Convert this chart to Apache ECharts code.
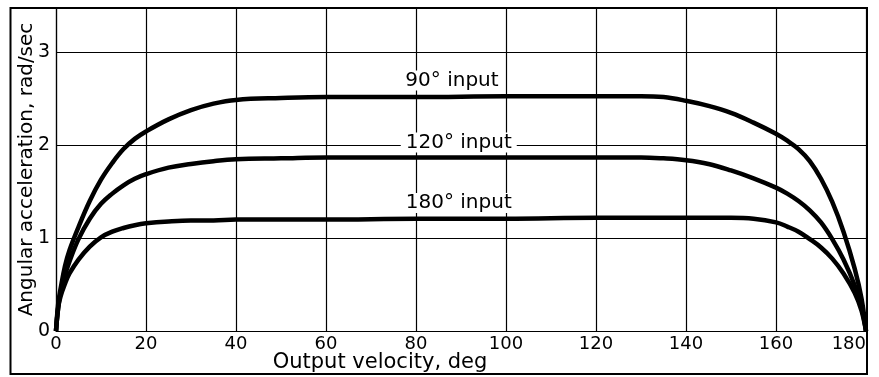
<!DOCTYPE html>
<html>
<head>
<meta charset="utf-8">
<script src="https://cdn.jsdelivr.net/npm/echarts@6/dist/echarts.min.js"></script>
<style>
  html, body { margin: 0; padding: 0; background: #fff; }
  #chart { width: 879px; height: 377px; }
</style>
</head>
<body>
<div id="chart"></div>
<script>
// output velocity, deg
var xs = [0, 0.5, 1, 2, 3, 5, 7.5, 10, 12.5, 15, 17.5, 20, 25, 30, 35, 40, 50, 60, 80, 100, 120, 130,
          135, 140, 145, 150, 155, 160, 162.5, 165, 167.5, 170, 172.5, 175, 177.5, 179, 180];
// angular acceleration, rad/sec
var input90  = [0, 0.30, 0.45, 0.70, 0.87, 1.12, 1.40, 1.63, 1.81, 1.96, 2.07, 2.15, 2.28, 2.38, 2.45, 2.49, 2.51, 2.52, 2.52, 2.53, 2.53, 2.53,
                2.52, 2.48, 2.425, 2.35, 2.245, 2.125, 2.05, 1.96, 1.83, 1.64, 1.39, 1.07, 0.67, 0.35, 0];
var input120 = [0, 0.26, 0.40, 0.60, 0.75, 0.99, 1.21, 1.37, 1.48, 1.57, 1.64, 1.69, 1.76, 1.80, 1.83, 1.85, 1.86, 1.87, 1.87, 1.87, 1.87, 1.87,
                1.86, 1.84, 1.80, 1.73, 1.645, 1.545, 1.48, 1.40, 1.30, 1.17, 0.99, 0.77, 0.49, 0.25, 0];
var input180 = [0, 0.25, 0.37, 0.51, 0.62, 0.77, 0.91, 1.01, 1.07, 1.11, 1.14, 1.16, 1.18, 1.19, 1.19, 1.20, 1.20, 1.20, 1.21, 1.21, 1.22, 1.22,
                1.22, 1.22, 1.22, 1.22, 1.21, 1.17, 1.125, 1.07, 0.99, 0.90, 0.78, 0.62, 0.41, 0.22, 0];

// curve labels (text and where they sit, in data units)
var labelText = ['90° input', '120° input', '180° input'];
var labelX = [88, 89.5, 89.5];
var labelY = [2.70, 2.03, 1.38];

var font = 'DejaVu Sans';

function pairs(vals) {
    return xs.map(function (x, i) { return [x, vals[i]]; });
}

function curve(name, vals, k) {
    return {
        name: name,
        type: 'line',
        data: pairs(vals),
        showSymbol: false,
        smooth: 0.4,
        lineStyle: { color: '#000', width: 4.5 },
        silent: true,
        markPoint: {
            silent: true,
            symbol: 'rect',
            symbolSize: 0,
            data: [{ coord: [labelX[k], labelY[k]] }],
            label: {
                show: true,
                position: 'inside',
                formatter: labelText[k],
                color: '#000',
                fontFamily: font,
                fontSize: 20,
                backgroundColor: '#fff',
                padding: [0, 5]
            }
        }
    };
}

var myChart = echarts.init(document.getElementById('chart'), null, { renderer: 'canvas' });
var options = {
    animation: false,
    backgroundColor: '#fff',
    grid: { left: 56, right: 13, top: 8, bottom: 46, outerBoundsMode: 'none' },
    xAxis: {
        type: 'value',
        min: 0,
        max: 180,
        interval: 20,
        name: 'Output velocity, deg',
        nameLocation: 'middle',
        nameGap: 21,
        nameMoveOverlap: false,
        nameTextStyle: { color: '#000', fontFamily: font, fontSize: 21, padding: [0, 162, 0, 0] },
        axisLine: { show: true, lineStyle: { color: '#000', width: 1.2 } },
        axisTick: { show: false },
        axisLabel: { color: '#000', fontFamily: font, fontSize: 18, margin: 4, alignMaxLabel: 'right' },
        splitLine: { show: true, lineStyle: { color: '#000', width: 1.2 } }
    },
    yAxis: {
        type: 'value',
        min: 0,
        max: 3.48,
        interval: 1,
        name: 'Angular acceleration, rad/sec',
        nameLocation: 'middle',
        nameGap: 19,
        nameMoveOverlap: false,
        nameTextStyle: { color: '#000', fontFamily: font, fontSize: 20 },
        axisLine: { show: true, lineStyle: { color: '#000', width: 1.2 } },
        axisTick: { show: false },
        axisLabel: { color: '#000', fontFamily: font, fontSize: 19, margin: 6, showMaxLabel: false },
        splitLine: { show: true, lineStyle: { color: '#000', width: 1.2 } }
    },
    graphic: [{
        type: 'rect',
        silent: true,
        z: 100,
        shape: { x: 10.5, y: 8, width: 856.5, height: 366 },
        style: { fill: 'none', stroke: '#000', lineWidth: 2 }
    }],
    series: [
        curve('90° input', input90, 0),
        curve('120° input', input120, 1),
        curve('180° input', input180, 2)
    ]
};
myChart.setOption(options, true);
</script>
</body>
</html>
